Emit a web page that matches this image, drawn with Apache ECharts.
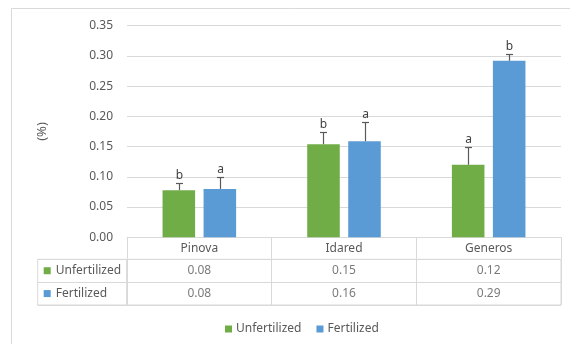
<!DOCTYPE html>
<html><head><meta charset="utf-8">
<script src="https://cdn.jsdelivr.net/npm/echarts@6/dist/echarts.min.js"></script>
<style>html,body{margin:0;padding:0;background:#fff}#c{width:570px;height:344px}</style>
</head><body><div id="c"></div><script>
const categories = ['Pinova', 'Idared', 'Generos'];
const seriesNames = ['Unfertilized', 'Fertilized'];
const unfertilized = [0.078, 0.154, 0.120];
const fertilized = [0.080, 0.159, 0.292];
const unfertilizedErr = [0.011, 0.020, 0.030];
const fertilizedErr = [0.020, 0.031, 0.011];
const unfertilizedLetters = ['b', 'b', 'a'];
const fertilizedLetters = ['a', 'a', 'b'];
const yMin = 0, yMax = 0.35, yStep = 0.05;

const GREEN = '#70AD47', BLUE = '#5B9BD5', GRID = '#d9d9d9', TXT = '#595959';
const FONT = 'Noto Sans';
const BW = 0.225, GAP = 0.26;

function errRender(side, letters) {
  return function (params, api) {
    const ci = api.value(0), v = api.value(1), e = api.value(2);
    const base = api.coord([ci, v]);
    const top = api.coord([ci, v + e]);
    const band = api.size([1, 0])[0];
    const bw = band * BW, gap = bw * GAP;
    const x = Math.round(base[0] + side * (bw / 2 + gap / 2)) + 0.5;
    const yt = Math.round(top[1]) + 0.5;
    const cap = 3.5;
    const st = { stroke: '#595959', lineWidth: 1.2 };
    return { type: 'group', children: [
      { type: 'line', shape: { x1: x, y1: base[1], x2: x, y2: yt }, style: st },
      { type: 'line', shape: { x1: x - cap, y1: yt, x2: x + cap, y2: yt }, style: st },
      { type: 'text', x: x, y: yt - 2, style: { text: letters[params.dataIndex], align: 'center', verticalAlign: 'bottom', fill: '#404040', fontSize: 12, fontFamily: FONT } }
    ] };
  };
}

const tableData = [];
[unfertilized, fertilized].forEach((arr, r) => arr.forEach((v, c) => tableData.push([categories[c], seriesNames[r], v])));

const chart = echarts.init(document.getElementById('c'), null, { renderer: 'canvas' });
chart.setOption({
  animation: false,
  backgroundColor: '#fff',
  textStyle: { fontFamily: FONT },
  graphic: [{ type: 'rect', shape: { x: 11.5, y: 8.5, width: 700, height: 500 }, style: { fill: 'none', stroke: GRID, lineWidth: 1 }, z: -10 }],
  legend: {
    data: seriesNames, left: 220, top: 318, icon: 'rect', itemWidth: 7, itemHeight: 7, itemGap: 15,
    textStyle: { fontSize: 12, color: TXT, fontFamily: FONT, padding: [0, 0, 0, -1] }
  },
  grid: [
    { left: 127, right: 9, top: 25.7, bottom: 106.7 },
    { left: 127, right: 9, top: 259.3, height: 45.7, show: true, borderColor: GRID, borderWidth: 1 },
    { left: 37.7, width: 89, top: 259.3, height: 45.7, show: true, borderColor: GRID, borderWidth: 1 }
  ],
  xAxis: [
    { type: 'category', gridIndex: 0, data: categories,
      axisLine: { show: true, lineStyle: { color: GRID } },
      axisTick: { show: true, length: 21.6, interval: 0, lineStyle: { color: GRID } },
      axisLabel: { margin: 5, fontSize: 12, color: TXT, fontFamily: FONT } },
    { type: 'category', gridIndex: 1, data: categories, axisLine: { show: false }, axisTick: { show: false }, axisLabel: { show: false },
      splitLine: { show: true, interval: 0, lineStyle: { color: GRID } } },
    { type: 'value', gridIndex: 2, show: false }
  ],
  yAxis: [
    { type: 'value', gridIndex: 0, min: yMin, max: yMax, interval: yStep,
      name: '(%)', nameLocation: 'middle', nameGap: 78, nameTextStyle: { fontSize: 13, color: TXT, fontFamily: FONT },
      axisLine: { show: false }, axisTick: { show: false },
      axisLabel: { margin: 14, fontSize: 12, color: TXT, fontFamily: FONT, formatter: v => v.toFixed(2) },
      splitLine: { lineStyle: { color: GRID } } },
    { type: 'category', gridIndex: 1, data: seriesNames, inverse: true, axisLine: { show: false }, axisTick: { show: false }, axisLabel: { show: false },
      splitLine: { show: true, interval: 0, lineStyle: { color: GRID } } },
    { type: 'category', gridIndex: 2, data: seriesNames, inverse: true, axisLine: { show: false }, axisTick: { show: false },
      splitLine: { show: true, interval: 0, lineStyle: { color: GRID } },
      axisLabel: { inside: true, margin: 6, align: 'left', fontSize: 12, color: TXT, fontFamily: FONT,
        formatter: (v, i) => '{m' + i + '|}{t|' + v + '}',
        rich: { m0: { width: 7, height: 7, backgroundColor: GREEN }, m1: { width: 7, height: 7, backgroundColor: BLUE },
                t: { fontSize: 12, color: TXT, fontFamily: FONT, padding: [0, 0, 0, 5] } } } }
  ],
  series: [
    { name: seriesNames[0], type: 'bar', xAxisIndex: 0, yAxisIndex: 0, data: unfertilized, barWidth: (BW * 100) + '%', barGap: (GAP * 100) + '%', itemStyle: { color: GREEN } },
    { name: seriesNames[1], type: 'bar', xAxisIndex: 0, yAxisIndex: 0, data: fertilized, barWidth: (BW * 100) + '%', barGap: (GAP * 100) + '%', itemStyle: { color: BLUE } },
    { name: 'errU', type: 'custom', xAxisIndex: 0, yAxisIndex: 0, z: 5, renderItem: errRender(-1, unfertilizedLetters),
      data: unfertilized.map((v, i) => [i, v, unfertilizedErr[i]]) },
    { name: 'errF', type: 'custom', xAxisIndex: 0, yAxisIndex: 0, z: 5, renderItem: errRender(1, fertilizedLetters),
      data: fertilized.map((v, i) => [i, v, fertilizedErr[i]]) },
    { name: 'table', type: 'scatter', xAxisIndex: 1, yAxisIndex: 1, symbolSize: 0.1, itemStyle: { color: 'transparent' }, silent: true,
      label: { show: true, position: 'inside', fontSize: 12, color: TXT, fontFamily: FONT, formatter: p => p.value[2].toFixed(2) },
      data: tableData }
  ]
});
</script></body></html>
